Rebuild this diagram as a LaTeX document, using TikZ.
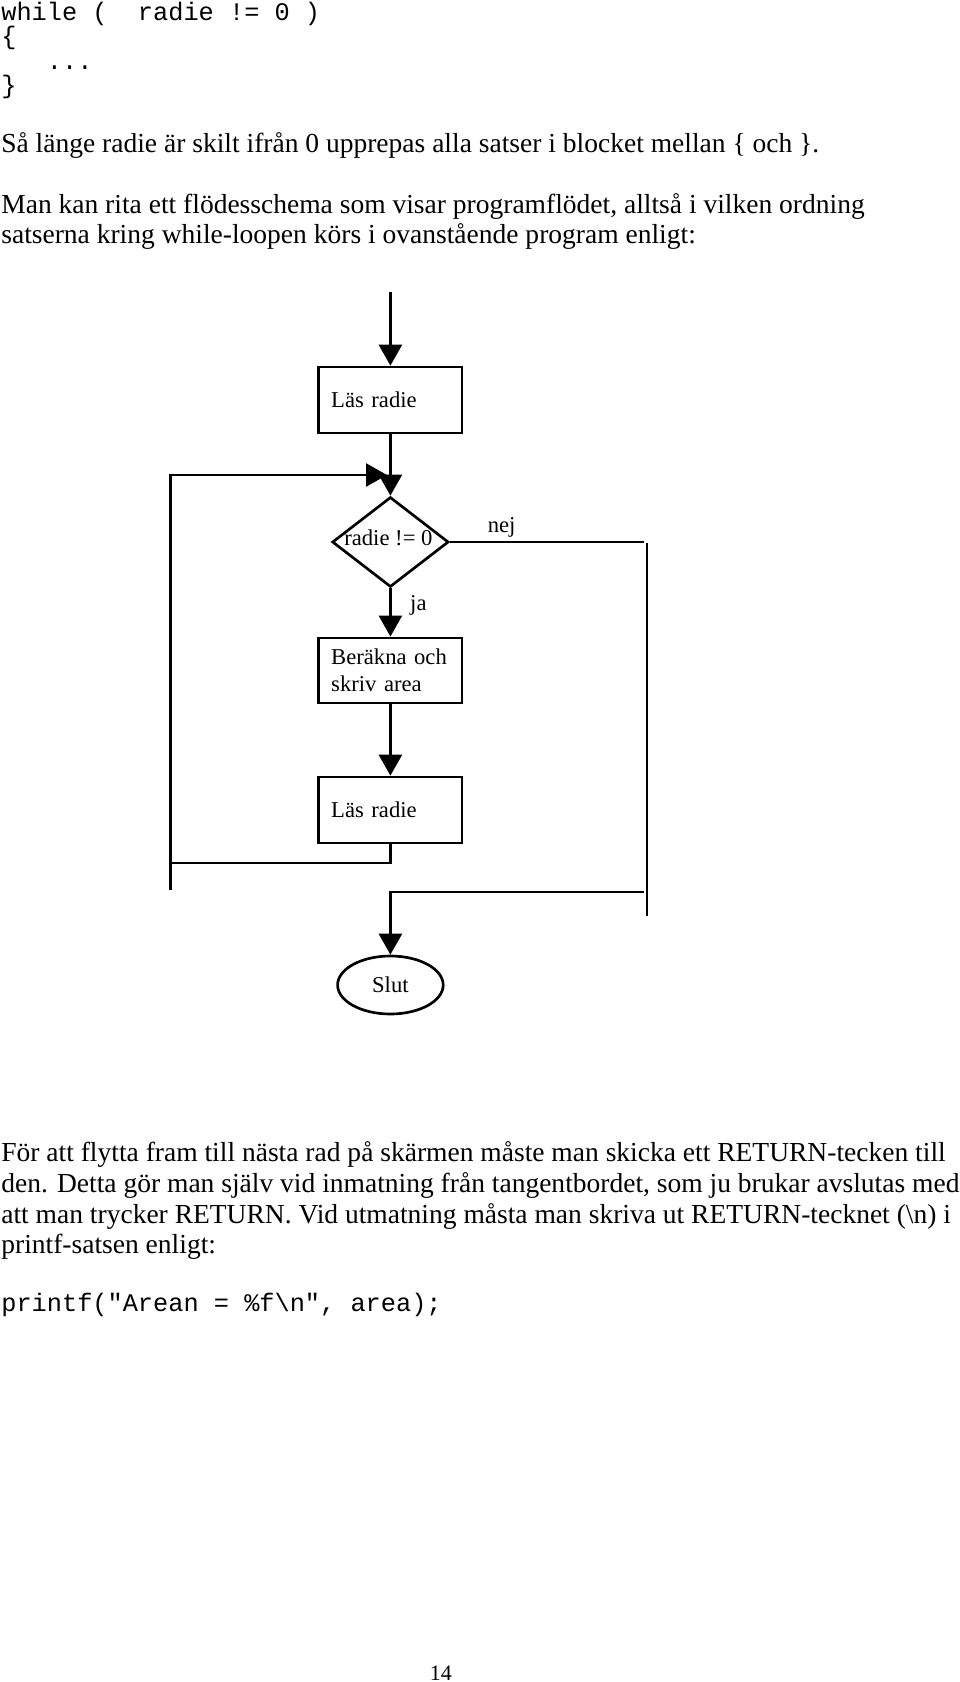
\documentclass[tikz,border=0pt]{standalone}
\usepackage{fontspec}
\setmainfont{Liberation Serif}
\setmonofont{Liberation Mono}
\usetikzlibrary{shapes.geometric,arrows.meta}

\begin{document}
\begin{tikzpicture}[line width=1.9pt,
        brod/.style={anchor=base west, inner sep=0, font=\fontsize{19.57}{22}\selectfont},
        kod/.style={anchor=base west, inner sep=0, font=\ttfamily\fontsize{18}{21}\selectfont},
        etikett/.style={inner sep=0, font=\fontsize{16.1}{19.2}\selectfont},
        ruta/.style={draw, minimum height=1.65cm, text width=2.96cm, inner xsep=.31cm, align=left, font=\fontsize{16.1}{19.2}\selectfont},
        romb/.style={draw, diamond, minimum width=2.91cm, minimum height=2.25cm, inner sep=0},
        oval/.style={draw, ellipse, minimum width=2.64cm, minimum height=1.45cm, inner sep=0, font=\fontsize{16.1}{19.2}\selectfont},
        pil/.style={-{Triangle[length=5.25mm, width=5.75mm]}}]
    \useasboundingbox (0, 0) rectangle (24, -42.05);
    % text ovanfor
    \node [kod] (kod1) at (0, -.5) {while (\ \ radie != 0 )};
    \node [kod] (kod2) at (0, -1.1125) {\{};
    \node [kod] (kod3) at (0, -1.725) {\ \ \ ...};
    \node [kod] (kod4) at (0, -2.3375) {\}};
    \node [brod] (rad1) at (0, -3.8) {Så länge radie är skilt ifrån 0 upprepas alla satser i blocket mellan \{ och \}.};
    \node [brod] (rad2) at (0, -5.3375) {Man kan rita ett flödesschema som visar programflödet, alltså i vilken ordning};
    \node [brod] (rad3) at (0, -6.0875) {satserna kring while-loopen körs i ovanstående program enligt:};
    % flodesschema
    \coordinate (start) at (9.76, -7.3);
    \node [ruta] (las1) at (9.76, -10) {Läs radie};
    \node [romb] (villkor) at (9.76, -13.55) {};
    \node [etikett] (villkortext) at (9.71, -13.45) {radie != 0};
    \node [ruta, minimum height=1.625cm] (berakna) at (9.76, -16.76) {Beräkna och\\skriv area};
    \node [ruta] (las2) at (9.76, -20.25) {Läs radie};
    \node [oval] (slut) at (9.76, -24.625) {Slut};
    \node [etikett] (nej) at (12.54, -13.175) {nej};
    \node [etikett] (ja) at (10.46, -15.125) {ja};
    \draw [pil] (start) -- (las1.north);
    \draw [pil] (las1.south) -- (villkor.north);
    \draw [pil] (villkor.south) -- (berakna.north);
    \draw [pil] (berakna.south) -- (las2.north);
    % slingan tillbaka
    \coordinate (loopA) at (4.265, -21.575);
    \coordinate (loopB) at (4.265, -11.875);
    \coordinate (loopC) at (9.675, -11.875);
    \coordinate (loopD) at (4.265, -22.25);
    \draw [pil] (las2.south) |- (loopA) -- (loopB) -- (loopC);
    \draw (loopA) -- (loopD);
    % nej-grenen
    \coordinate (nejA) at (16.1, -13.55);
    \coordinate (hogerA) at (16.175, -13.575);
    \coordinate (hogerB) at (16.175, -22.9);
    \coordinate (hogerC) at (16.1, -22.3);
    \draw (villkor.east) -- (nejA);
    \draw (hogerA) -- (hogerB);
    \draw [pil] (hogerC) -| (slut.north);
    % text nedanfor
    \node [brod] (rad4) at (0, -29.025) {För att flytta fram till nästa rad på skärmen måste man skicka ett RETURN-tecken till};
    \node [brod] (rad5) at (0, -29.8) {den. Detta gör man själv vid inmatning från tangentbordet, som ju brukar avslutas med};
    \node [brod] (rad6) at (0, -30.575) {att man trycker RETURN. Vid utmatning måsta man skriva ut RETURN-tecknet (\textbackslash n) i};
    \node [brod] (rad7) at (0, -31.325) {printf-satsen enligt:};
    \node [kod] (kod5) at (0, -32.775) {printf("Arean = \%f\textbackslash n", area);};
    \node [anchor=base, inner sep=0, font=\fontsize{15.6}{18}\selectfont] (sida) at (11.02, -42) {14};
\end{tikzpicture}
\end{document}
